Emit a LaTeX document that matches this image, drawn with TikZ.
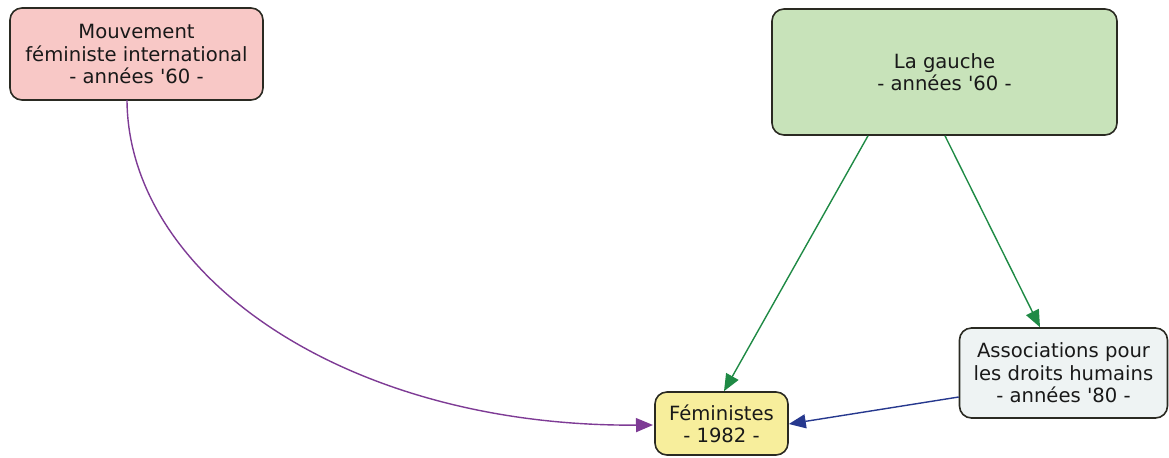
\documentclass[tikz,border=0pt]{standalone}
\usepackage{fontspec}
\setmainfont{DejaVu Sans}
\usetikzlibrary{arrows.meta}
\definecolor{pinkfill}{HTML}{F8C8C6}
\definecolor{greenfill}{HTML}{C8E3BA}
\definecolor{yellowfill}{HTML}{F7EE9C}
\definecolor{greyfill}{HTML}{EEF3F3}
\definecolor{purpleline}{HTML}{7E3B95}
\definecolor{greenline}{HTML}{1F8A45}
\definecolor{blueline}{HTML}{26388E}
\definecolor{bordercol}{HTML}{2A2A22}
\newcommand{\apos}{\textquotesingle}
\begin{document}
\begin{tikzpicture}[x=0.5pt,y=-0.5pt,
  box/.style={draw=bordercol, line width=0.8pt, rounded corners=6pt, inner sep=0pt,
    align=center, font=\fontsize{9.8}{11.2}\selectfont, text=black!90},
  conn/.style={line width=0.7pt, -{Triangle[length=8.5pt,width=7pt]}}]
\useasboundingbox (0,0) rectangle (1169,457);
\node[box, fill=pinkfill, minimum width=253pt*0.5, minimum height=92pt*0.5] (mouv) at (136.5,54) {Mouvement\\féministe international\\- années \apos60 -};
\node[box, fill=greenfill, minimum width=345pt*0.5, minimum height=126pt*0.5] (gauche) at (944.5,72) {La gauche\\- années \apos60 -};
\node[box, fill=yellowfill, minimum width=133pt*0.5, minimum height=63pt*0.5] (fem) at (721.5,423.5) {Féministes\\- 1982 -};
\node[box, fill=greyfill, minimum width=208pt*0.5, minimum height=90pt*0.5] (assoc) at (1063.5,373) {Associations pour\\les droits humains\\- années \apos80 -};
\coordinate (mouvS) at (127,100);
\coordinate (femW) at (653,425);
\draw[conn, draw=purpleline] (mouvS) .. controls (128,275) and (345,427) .. (femW);
\draw[conn, draw=greenline] (gauche.south -| 868,0) -- (fem.north -| 724,0);
\draw[conn, draw=greenline] (gauche.south -| 945,0) -- (assoc.north -| 1040,0);
\draw[conn, draw=blueline] (assoc.west |- 0,397) -- (fem.east |- 0,424);
\end{tikzpicture}
\end{document}
